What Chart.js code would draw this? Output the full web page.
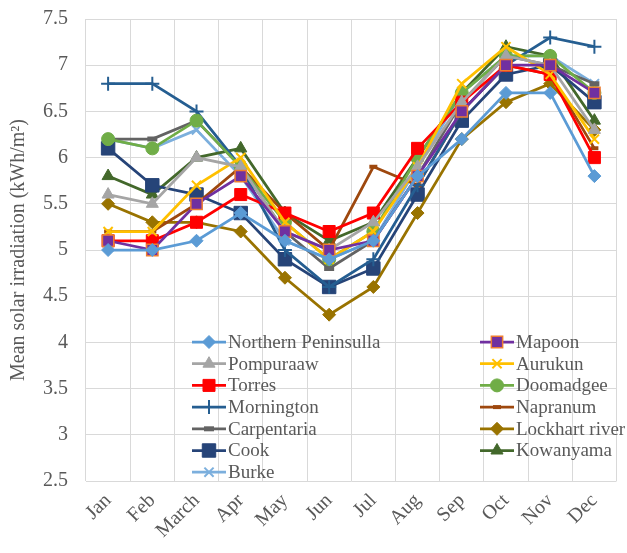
<!DOCTYPE html>
<html>
<head>
<meta charset="utf-8">
<script src="https://cdn.jsdelivr.net/npm/chart.js@4.4.1/dist/chart.umd.min.js"></script>
<style>
  html, body { margin: 0; padding: 0; background: #fff; }
  #wrap { width: 627px; height: 553px; }
</style>
</head>
<body>
<div id="wrap"><canvas id="chart"></canvas></div>
<script>
// months on the x axis
const months = ['Jan', 'Feb', 'March', 'Apr', 'May', 'Jun', 'Jul', 'Aug', 'Sep', 'Oct', 'Nov', 'Dec'];

// mean solar irradiation, kWh/m2
const northernPeninsulla = [5.0, 5.0, 5.1, 5.4, 5.1, 4.9, 5.1, 5.8, 6.2, 6.7, 6.7, 5.8];
const mapoon             = [5.1, 5.0, 5.5, 5.8, 5.2, 5.0, 5.1, 5.8, 6.5, 7.0, 7.0, 6.7];
const pompuraaw          = [5.6, 5.5, 6.0, 5.9, 5.2, 5.0, 5.3, 5.9, 6.6, 7.1, 7.0, 6.3];
const aurukun            = [5.2, 5.2, 5.7, 6.0, 5.3, 4.9, 5.2, 5.9, 6.8, 7.2, 6.9, 6.2];
const torres             = [5.1, 5.1, 5.3, 5.6, 5.4, 5.2, 5.4, 6.1, 6.6, 7.0, 6.9, 6.0];
const doomadgee          = [6.2, 6.1, 6.4, 5.9, 5.3, 4.9, 5.2, 6.0, 6.7, 7.1, 7.1, 6.7];
const mornington         = [6.8, 6.8, 6.5, 5.9, 5.0, 4.6, 4.9, 5.7, 6.5, 7.0, 7.3, 7.2];
const napranum           = [5.2, 5.2, 5.5, 5.9, 5.4, 5.0, 5.9, 5.7, 6.5, 7.0, 6.9, 6.1];
const carpentaria        = [6.2, 6.2, 6.4, 5.9, 5.2, 4.8, 5.1, 5.8, 6.6, 7.1, 7.0, 6.8];
const lockhartRiver      = [5.5, 5.3, 5.3, 5.2, 4.7, 4.3, 4.6, 5.4, 6.2, 6.6, 6.8, 6.3];
const cook               = [6.1, 5.7, 5.6, 5.4, 4.9, 4.6, 4.8, 5.6, 6.4, 6.9, 7.0, 6.6];
const kowanyama          = [5.8, 5.6, 6.0, 6.1, 5.4, 5.1, 5.3, 6.0, 6.7, 7.2, 7.1, 6.4];
const burke              = [6.2, 6.1, 6.3, 5.8, 5.1, 4.9, 5.1, 5.9, 6.7, 7.1, 7.1, 6.8];

const yTicks = [2.5, 3, 3.5, 4, 4.5, 5, 5.5, 6, 6.5, 7, 7.5];

const FONT = '"Liberation Serif", "Times New Roman", serif';
const TEXT = '#595959';

function series(label, data, color, style, radius, extra) {
  return Object.assign({
    label: label,
    data: data,
    borderColor: color,
    backgroundColor: color,
    pointBackgroundColor: color,
    pointBorderColor: color,
    borderWidth: 2.75,
    pointStyle: style,
    pointRadius: radius,
    pointHoverRadius: radius,
    pointBorderWidth: 1,
    tension: 0
  }, extra || {});
}

const datasets = [
  series('Northern Peninsulla', northernPeninsulla, '#5B9BD5', 'rectRot', 6.5),
  series('Mapoon', mapoon, '#7030A0', 'rect', 8, { pointBorderColor: '#ED7D31', pointBorderWidth: 1.5 }),
  series('Pompuraaw', pompuraaw, '#A5A5A5', 'triangle', 7),
  series('Aurukun', aurukun, '#FFC000', 'crossRot', 6.5, { pointBorderWidth: 2 }),
  series('Torres', torres, '#FF0000', 'rect', 8.5),
  series('Doomadgee', doomadgee, '#70AD47', 'circle', 6.5),
  series('Mornington', mornington, '#255E91', 'cross', 7, { pointBorderWidth: 2 }),
  series('Napranum', napranum, '#9E480E', 'line', 4, { pointBorderWidth: 4 }),
  series('Carpentaria', carpentaria, '#636363', 'line', 5, { pointBorderWidth: 5 }),
  series('Lockhart river', lockhartRiver, '#997300', 'rectRot', 6.5),
  series('Cook', cook, '#264478', 'rect', 9.5),
  series('Kowanyama', kowanyama, '#43682B', 'triangle', 7),
  series('Burke', burke, '#7CAFDD', 'crossRot', 6.5, { pointBorderWidth: 2 })
];

// legend sits inside the plot, two columns like the original
const leftCol = ['Northern Peninsulla', 'Pompuraaw', 'Torres', 'Mornington', 'Carpentaria', 'Cook', 'Burke'];
const rightCol = ['Mapoon', 'Aurukun', 'Doomadgee', 'Napranum', 'Lockhart river', 'Kowanyama'];

const insideLegend = {
  id: 'insideLegend',
  afterDatasetsDraw(chart) {
    const ctx = chart.ctx;
    const draw = (names, x0, y0) => {
      names.forEach((name, i) => {
        const ds = chart.data.datasets.find(d => d.label === name);
        const y = y0 + i * 21.7;
        ctx.save();
        ctx.strokeStyle = ds.borderColor;
        ctx.lineWidth = ds.borderWidth;
        ctx.beginPath();
        ctx.moveTo(x0, y);
        ctx.lineTo(x0 + 34, y);
        ctx.stroke();
        ctx.fillStyle = ds.pointBackgroundColor;
        ctx.strokeStyle = ds.pointBorderColor;
        ctx.lineWidth = ds.pointBorderWidth;
        Chart.helpers.drawPoint(ctx, {
          pointStyle: ds.pointStyle,
          radius: ds.pointRadius,
          rotation: 0,
          borderWidth: ds.pointBorderWidth
        }, x0 + 17, y);
        ctx.fillStyle = TEXT;
        ctx.font = '19px ' + FONT;
        ctx.textBaseline = 'middle';
        ctx.textAlign = 'left';
        ctx.fillText(name, x0 + 36, y + 1);
        ctx.restore();
      });
    };
    draw(leftCol, 192, 342);
    draw(rightCol, 480, 342);
  }
};

new Chart(document.getElementById('chart'), {
  type: 'line',
  data: { labels: months, datasets: datasets },
  plugins: [insideLegend],
  options: {
    responsive: true,
    maintainAspectRatio: false,
    animation: false,
    layout: { padding: { left: 0, right: 7, top: 19, bottom: 0 } },
    plugins: {
      legend: { display: false },
      tooltip: { enabled: false }
    },
    scales: {
      x: {
        offset: true,
        grid: { offset: true, color: '#D9D9D9', lineWidth: 1, drawTicks: false },
        border: { display: false },
        afterFit(scale) {
          scale.height = 72;
          scale.paddingLeft = 0;
          scale.paddingRight = 0;
        },
        ticks: {
          color: TEXT,
          font: { family: FONT, size: 20 },
          maxRotation: 45,
          minRotation: 45,
          padding: 8,
          autoSkip: false
        }
      },
      y: {
        min: 2.5,
        max: 7.5,
        afterFit(scale) {
          scale.width = 86;
          scale.paddingTop = 0;
          scale.paddingBottom = 0;
        },
        afterBuildTicks(scale) { scale.ticks = yTicks.map(v => ({ value: v })); },
        grid: { color: '#D9D9D9', lineWidth: 1, drawTicks: false },
        border: { display: false },
        ticks: {
          color: TEXT,
          font: { family: FONT, size: 20 },
          padding: 18,
          callback: v => String(v)
        },
        title: {
          display: true,
          text: 'Mean solar irradiation (kWh/m²)',
          color: TEXT,
          font: { family: FONT, size: 20 },
          padding: { top: 7, bottom: 0 }
        }
      }
    }
  }
});
</script>
</body>
</html>
